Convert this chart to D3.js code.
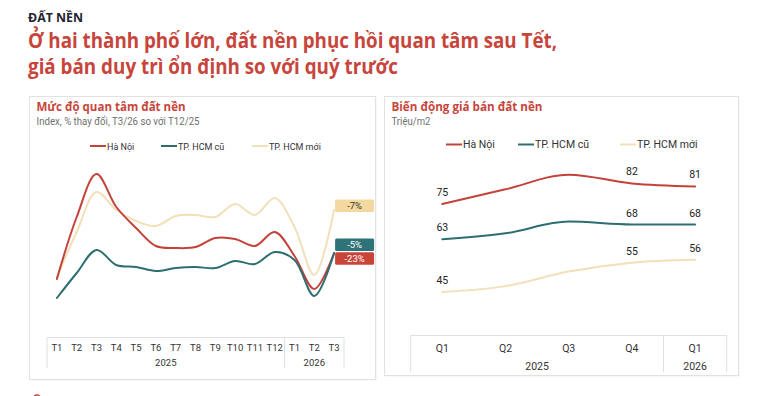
<!DOCTYPE html>
<html><head><meta charset="utf-8">
<script src="https://cdn.jsdelivr.net/npm/d3@7"></script>
<style>
html,body{margin:0;padding:0;background:#fff;}
svg{display:block;}
</style></head>
<body>
<svg id="c" width="766" height="396"></svg>
<script>
// ---------- DATA ----------
const months = ["T1","T2","T3","T4","T5","T6","T7","T8","T9","T10","T11","T12","T1","T2","T3"];
const monthYears = [{year:"2025", from:0, to:11},{year:"2026", from:12, to:14}];
const interestHanoi  = [31, 93, 136, 103, 82, 64, 62, 63, 72, 71, 64, 78, 54, 21, 57];
const interestHcmOld = [12, 37, 60, 45, 43, 39, 42, 43, 42, 49, 46, 58, 50, 14, 57];
const interestHcmNew = [33, 78, 118, 100, 89, 84, 94, 95, 93, 106, 95, 112, 83, 35, 100];
const interestChange = ["-23%","-5%","-7%"]; // Hà Nội, HCM cũ, HCM mới

const quarters = ["Q1","Q2","Q3","Q4","Q1"];
const quarterYears = [{year:"2025", from:0, to:3},{year:"2026", from:4, to:4}];
const priceHanoi  = [75, 80, 85, 82, 81];
const priceHcmOld = [63, 65, 69, 68, 68];
const priceHcmNew = [45, 47, 52, 55, 56];
const priceLabelIdx = [0, 3, 4];

const seriesNames = ["Hà Nội","TP. HCM cũ","TP. HCM mới"];
const colors = ["#c3423a","#2e6e71","#f1e0b8"];
const boxColors = ["#c9453a","#2e7377","#f3d9a0"];
const boxText = ["#fff","#fff","#333"];

const svg = d3.select("#c");
const FONT = "Roboto, 'Open Sans', sans-serif";
const TFONT = "'Open Sans', 'Noto Sans', sans-serif";

function fit(sel, w){
  const L = sel.node().getComputedTextLength();
  if (Math.abs(L - w) > 1) sel.attr("textLength", w).attr("lengthAdjust","spacingAndGlyphs");
  return sel;
}

// ---------- HEADER ----------
fit(svg.append("text").attr("x",28).attr("y",22).attr("font-family",TFONT).attr("font-weight",700)
  .attr("font-size",13).attr("fill","#1f2230").text("ĐẤT NỀN"), 55);
fit(svg.append("text").attr("x",28).attr("y",48).attr("font-family",TFONT).attr("font-weight",700)
  .attr("font-size",20.5).attr("fill","#c8453b").text("Ở hai thành phố lớn, đất nền phục hồi quan tâm sau Tết,"), 529);
fit(svg.append("text").attr("x",28).attr("y",74).attr("font-family",TFONT).attr("font-weight",700)
  .attr("font-size",20.5).attr("fill","#c8453b").text("giá bán duy trì ổn định so với quý trước"), 370);

// ---------- PANELS ----------
function panel(x0,y0,x1,y1,title,tw,sub,sw){
  svg.append("rect").attr("x",x0+1).attr("y",y0+1).attr("width",x1-x0).attr("height",y1-y0)
    .attr("fill","#f2f2f2");
  svg.append("rect").attr("x",x0).attr("y",y0).attr("width",x1-x0).attr("height",y1-y0)
    .attr("fill","#fff").attr("stroke","#e2e2e2").attr("stroke-width",1);
  fit(svg.append("text").attr("x",x0+7).attr("y",y0+14).attr("font-family",TFONT).attr("font-weight",700)
    .attr("font-size",12).attr("fill","#c8453b").text(title), tw);
  fit(svg.append("text").attr("x",x0+7).attr("y",y0+28).attr("font-family",FONT)
    .attr("font-size",10).attr("fill","#707070").text(sub), sw);
}
panel(29.5,96.5,375.5,379.5,"Mức độ quan tâm đất nền",149,"Index, % thay đổi, T3/26 so với T12/25",163);
panel(384.5,96.5,738.5,375.5,"Biến động giá bán đất nền",151,"Triệu/m2",39);

function legend(y, xs, fs){
  seriesNames.forEach((n,i)=>{
    svg.append("line").attr("x1",xs[i]).attr("x2",xs[i]+16).attr("y1",y).attr("y2",y)
      .attr("stroke",colors[i]).attr("stroke-width",2);
    svg.append("text").attr("x",xs[i]+17).attr("y",y+3.5).attr("font-family",FONT)
      .attr("font-size",fs).attr("fill","#333").text(n);
  });
}
legend(146,[90,161,252],9);
legend(144.5,[446,518,620],10.5);

// category "table" axis
function catAxis(x, labels, years, top, bottom, lblY, yrY, fs){
  const g = svg.append("g");
  const r = x.range();
  g.append("line").attr("x1",r[0]).attr("x2",r[1]).attr("y1",top).attr("y2",top)
    .attr("stroke","#e0e0e0");
  const edges = [r[0], r[1]];
  years.forEach((yr,k)=>{ if(k>0) edges.push(x(yr.from)); });
  edges.forEach(e=> g.append("line").attr("x1",e).attr("x2",e).attr("y1",top).attr("y2",bottom)
    .attr("stroke","#e0e0e0"));
  labels.forEach((l,i)=> g.append("text").attr("x",x(i)+x.bandwidth()/2).attr("y",lblY)
    .attr("text-anchor","middle").attr("font-family",FONT).attr("font-size",fs).attr("fill","#333").text(l));
  years.forEach(yr=>{
    const cx = (x(yr.from) + x(yr.to) + x.bandwidth())/2;
    g.append("text").attr("x",cx).attr("y",yrY).attr("text-anchor","middle")
      .attr("font-family",FONT).attr("font-size",fs).attr("fill","#333").text(yr.year);
  });
}

// ---------- LEFT CHART ----------
const xL = d3.scaleBand().domain(d3.range(months.length)).range([47,344]).padding(0);
const yL = d3.scaleLinear().domain([0,150]).range([310,160]);
catAxis(xL, months, monthYears, 337.5, 368, 351, 366, 9.5);

const lineL = d3.line().x((d,i)=>xL(i)+xL.bandwidth()/2).y(d=>yL(d)).curve(d3.curveCatmullRom.alpha(0.5));
const leftSeries = [interestHanoi, interestHcmOld, interestHcmNew];
[2,0,1].forEach(i=>{
  svg.append("path").datum(leftSeries[i]).attr("d",lineL).attr("fill","none")
    .attr("stroke",colors[i]).attr("stroke-width",2).attr("stroke-linejoin","round").attr("stroke-linecap","round");
});
// end labels
const lastX = xL(months.length-1)+xL.bandwidth()/2;
const boxY = [258.3, 244.6, 205.5];
[0,1,2].forEach(i=>{
  svg.append("rect").attr("x",lastX+1).attr("y",boxY[i]-6).attr("width",39).attr("height",12.5)
    .attr("rx",1.5).attr("fill",boxColors[i]);
  svg.append("text").attr("x",lastX+20.5).attr("y",boxY[i]+3.5).attr("text-anchor","middle")
    .attr("font-family",FONT).attr("font-size",9.5).attr("fill",boxText[i]).text(interestChange[i]);
});

// ---------- RIGHT CHART ----------
const xR = d3.scaleBand().domain(d3.range(quarters.length)).range([410.7,726.7]).padding(0);
const yR = d3.scaleLinear().domain([30,90]).range([336,160]);
catAxis(xR, quarters, quarterYears, 335.5, 372, 352, 370, 10.5);

const lineR = d3.line().x((d,i)=>xR(i)+xR.bandwidth()/2).y(d=>yR(d)).curve(d3.curveMonotoneX);
const rightSeries = [priceHanoi, priceHcmOld, priceHcmNew];
rightSeries.forEach((s,i)=>{
  svg.append("path").datum(s).attr("d",lineR).attr("fill","none")
    .attr("stroke",colors[i]).attr("stroke-width",2).attr("stroke-linecap","round");
  priceLabelIdx.forEach(j=>{
    svg.append("text").attr("x",xR(j)+xR.bandwidth()/2).attr("y",yR(s[j])-8)
      .attr("text-anchor","middle").attr("font-family",FONT).attr("font-size",10.5)
      .attr("fill","#222").text(s[j]);
  });
});

// footer (cut off at the bottom edge, as in the reference)
svg.append("circle").attr("cx",37).attr("cy",399).attr("r",4).attr("fill","none").attr("stroke","#c8453b").attr("stroke-width",1.5);
svg.append("text").attr("x",98).attr("y",403).attr("font-family",FONT).attr("font-size",9).attr("fill","#c8453b").text("cafef");
</script>
</body></html>
